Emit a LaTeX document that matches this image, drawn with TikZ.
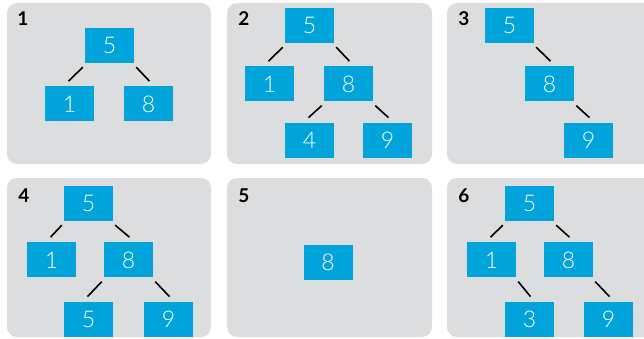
\documentclass[tikz,border=0pt]{standalone}
\usepackage{fontspec}
\setmainfont{Lato}
\newfontfamily\numfont{Lato}[UprightFont=* Light]
\usetikzlibrary{positioning, calc}
\definecolor{boxblue}{RGB}{0,163,218}
\definecolor{panelgray}{RGB}{220,221,223}

\begin{document}
\begin{tikzpicture}[x=1pt, y=-1pt]
    \tikzstyle{panel}=[fill=panelgray, rounded corners=10pt]
    \tikzstyle{keybox}=[fill=boxblue, text=white, minimum width=49pt, minimum height=35pt, inner sep=0pt, font=\numfont\fontsize{23}{23}\selectfont]
    \tikzstyle{panelno}=[font=\bfseries\fontsize{19}{19}\selectfont]
    \tikzstyle{branch}=[line width=1.6pt]
    \useasboundingbox (0,0) rectangle (644,339);
    \clip (0,0) rectangle (644,339);
    % panels
    \fill[panel] (7,3) rectangle (211,164);
    \fill[panel] (227,3) rectangle (432,164);
    \fill[panel] (447,3) rectangle (670,164);
    \fill[panel] (7,178) rectangle (211,337);
    \fill[panel] (227,178) rectangle (432,337);
    \fill[panel] (447,178) rectangle (670,337);
    \node[panelno] (n1) at (23,19) {1};
    \node[panelno] (n2) at (244,19) {2};
    \node[panelno] (n3) at (464,19) {3};
    \node[panelno] (n4) at (24,196) {4};
    \node[panelno] (n5) at (244,196) {5};
    \node[panelno] (n6) at (464,196) {6};
    % panel 1
    \node[keybox] (a5) at (109.5,45.5) {5};
    \node[keybox, below=23pt of a5, xshift=-40pt] (a1) {1};
    \node[keybox, below=23pt of a5, xshift=39pt] (a8) {8};
    % panel 2
    \node[keybox] (b5) at (309.5,25.5) {5};
    \node[keybox, below=23pt of b5, xshift=-40pt] (b1) {1};
    \node[keybox, below=23pt of b5, xshift=39pt] (b8) {8};
    \node[keybox, below=21pt of b8, xshift=-39pt] (b4) {4};
    \node[keybox, below=21pt of b8, xshift=39pt] (b9) {9};
    % panel 3
    \node[keybox] (c5) at (509.5,25.5) {5};
    \node[keybox, below=23pt of c5, xshift=40pt] (c8) {8};
    \node[keybox, below=21pt of c8, xshift=39pt] (c9) {9};
    % panel 4
    \node[keybox] (d5) at (88.5,203.5) {5};
    \node[keybox, below=21pt of d5, xshift=-37pt] (d1) {1};
    \node[keybox, below=21pt of d5, xshift=40pt] (d8) {8};
    \node[keybox, below=24pt of d8, xshift=-40pt] (d5b) {5};
    \node[keybox, below=24pt of d8, xshift=40pt] (d9) {9};
    % panel 5
    \node[keybox] (e8) at (328,262) {8};
    % panel 6
    \node[keybox] (f5) at (529.5,203.5) {5};
    \node[keybox, below=21pt of f5, xshift=-38pt] (f1) {1};
    \node[keybox, below=21pt of f5, xshift=39pt] (f8) {8};
    \node[keybox, below=24pt of f1, xshift=38pt] (f3) {3};
    \node[keybox, below=24pt of f8, xshift=40pt] (f9) {9};
    % branches
    \foreach \p/\c in {a5/a1, b5/b1, b8/b4, d5/d1, d8/d5b, f5/f1}
        \draw[branch] ($(\p.south west)+(-2,4)$) -- ($(\c.north)+(-1,-5)$);
    \foreach \p/\c in {a5/a8, b5/b8, b8/b9, c5/c8, c8/c9, d5/d8, d8/d9, f5/f8, f1/f3, f8/f9}
        \draw[branch] ($(\p.south east)+(2,4)$) -- ($(\c.north)+(1,-5)$);
\end{tikzpicture}
\end{document}
